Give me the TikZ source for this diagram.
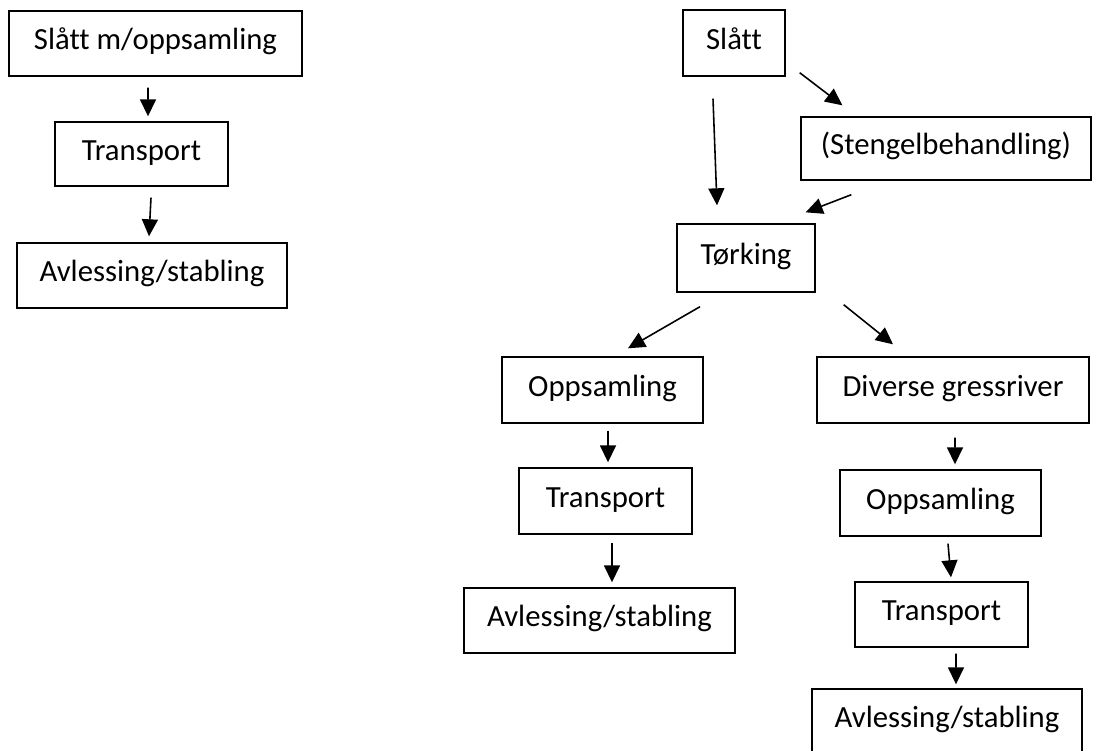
\documentclass[tikz,border=0pt]{standalone}
\usepackage{fontspec}
\setmainfont{Carlito}[Ligatures=NoCommon]
\usepackage{tikz}
\usetikzlibrary{calc}
\usetikzlibrary{arrows.meta}

\begin{document}
\begin{tikzpicture}[x=0.02cm, y=-0.02cm,
  box/.style 2 args = {draw, line width=0.8pt, inner sep=0pt, minimum width=#1cm, minimum height=#2cm,
    font=\fontsize{17.5}{20}\selectfont, text height=12pt, text depth=5pt},
  arr/.style = {line width=0.9pt, -{Triangle[length=0.34cm, width=0.32cm]}}]
  \useasboundingbox (0,0) rectangle (1093,751);
  %left chain
  \node[box={5.86}{1.30}] (sm) at (155.5, 43.5) {Slått m/oppsamling};
  \node[box={3.46}{1.28}] (tr1) at (141.5, 154) {Transport};
  \node[box={5.40}{1.30}] (av1) at (152, 275.5) {Avlessing/stabling};
  \draw[arr] ($(sm.south)+(-7.5,11)$) -- ($(tr1.north)+(6.5,-5)$);
  \draw[arr] ($(tr1.south)+(9.5,11)$) -- ($(av1.north)+(-3,-6)$);

  %top of right chain
  \node[box={2.04}{1.32}] (sl) at (734, 43) {Slått};
  \node[box={5.80}{1.26}] (st) at (946, 148.5) {(Stengelbehandling)};
  \node[box={2.76}{1.36}] (tk) at (746, 258) {Tørking};
  \draw[arr] ($(sl.south east)+(14,-4)$) -- ($(st.north west)+(42,-11)$);
  \draw[arr] ($(sl.south)+(-21,22)$) -- ($(tk.north)+(-29,-18)$);
  \draw[arr] ($(st.south west)+(51,14)$) -- ($(tk.north east)+(-10,-11)$);

  %left branch
  \node[box={4.02}{1.32}] (op1) at (602.5, 390) {Oppsamling};
  \node[box={3.46}{1.32}] (tr2) at (605.5, 501) {Transport};
  \node[box={5.42}{1.30}] (av2) at (599.5, 620.5) {Avlessing/stabling};
  \draw[arr] ($(tk.south)+(-46,14)$) -- ($(op1.north)+(25.5,-8)$);
  \draw[arr] ($(op1.south)+(5.5,7)$) -- ($(tr2.north)+(2.5,-5)$);
  \draw[arr] ($(tr2.south)+(6.5,8)$) -- ($(av2.north)+(12.5,-5)$);

  %right branch
  \node[box={5.44}{1.32}] (dg) at (953, 390) {Diverse gressriver};
  \node[box={4.02}{1.32}] (op2) at (940.5, 503) {Oppsamling};
  \node[box={3.46}{1.30}] (tr3) at (941.5, 614.5) {Transport};
  \node[box={5.40}{1.30}] (av3) at (947, 721.5) {Avlessing/stabling};
  \draw[arr] ($(tk.south east)+(28,12)$) -- ($(dg.north)+(-60,-12)$);
  \draw[arr] ($(dg.south)+(2,14)$) -- ($(op2.north)+(14.5,-5)$);
  \draw[arr] ($(op2.south)+(7.5,7)$) -- ($(tr3.north)+(9.5,-4)$);
  \draw[arr] ($(tr3.south)+(14.5,6)$) -- ($(av3.north)+(9,-4)$);
\end{tikzpicture}
\end{document}
